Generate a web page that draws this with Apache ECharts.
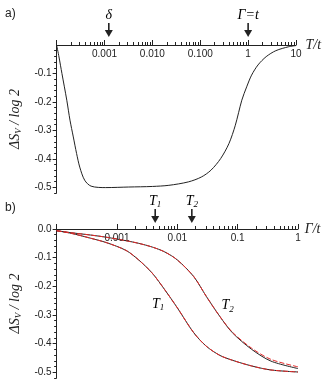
<!DOCTYPE html>
<html><head><meta charset="utf-8">
<script src="https://cdn.jsdelivr.net/npm/echarts@6/dist/echarts.min.js"></script>
<style>html,body{margin:0;padding:0;background:#fff}#c{width:330px;height:391px}</style>
</head><body><div id="c"></div>
<script>
// ---- data (panel a) ----
const topX = [0.0001, 0.000112, 0.000129, 0.000163, 0.00019, 0.000223, 0.000261, 0.000304, 0.000385, 0.000525, 0.00106, 0.0032, 0.01, 0.0221, 0.0564, 0.105, 0.167, 0.267, 0.398, 0.54, 0.738, 0.933, 1.18, 1.61, 2.38, 3.79, 7.06, 10];
const topY = [0, -0.042, -0.10, -0.194, -0.264, -0.323, -0.381, -0.429, -0.475, -0.496, -0.501, -0.499, -0.497, -0.493, -0.481, -0.464, -0.440, -0.399, -0.346, -0.282, -0.194, -0.147, -0.106, -0.070, -0.041, -0.020, -0.006, -0.002];
// ---- data (panel b) ----
const botX = [0.0001, 0.000174, 0.000363, 0.000679, 0.00142, 0.00229, 0.00384, 0.00619, 0.01, 0.0187, 0.0302, 0.0506, 0.0817, 0.1706, 0.356, 1];
const t1Y  = [-0.006, -0.015, -0.032, -0.048, -0.075, -0.108, -0.154, -0.212, -0.275, -0.362, -0.409, -0.441, -0.458, -0.478, -0.492, -0.499];
const t2Y  = [-0.006, -0.013, -0.021, -0.029, -0.041, -0.050, -0.063, -0.080, -0.108, -0.166, -0.235, -0.305, -0.362, -0.42, -0.461, -0.487];
const t1FitY = t1Y;
const t2FitY = [-0.006, -0.013, -0.021, -0.029, -0.041, -0.050, -0.063, -0.080, -0.108, -0.166, -0.235, -0.305, -0.360, -0.416, -0.455, -0.481];
// ---- ticks ----
const topMajor = [0.0001, 0.001, 0.01, 0.1, 1, 10];
const topMajorLabels = ['', '0.001', '0.010', '0.100', '1', '10'];
const topMinor = [0.0002,0.0003,0.0004,0.0005,0.0006,0.0007,0.0008,0.0009,0.002,0.003,0.004,0.005,0.006,0.007,0.008,0.009,0.02,0.03,0.04,0.05,0.06,0.07,0.08,0.09,0.2,0.3,0.4,0.5,0.6,0.7,0.8,0.9,2,3,4,5,6,7,8,9];
const botMajor = [0.0001, 0.001, 0.01, 0.1, 1];
const botMajorLabels = ['', '0.001', '0.01', '0.1', '1'];
const botMinor = [0.002,0.003,0.004,0.005,0.006,0.007,0.008,0.009,0.02,0.03,0.04,0.05,0.06,0.07,0.08,0.09,0.2,0.3,0.4,0.5,0.6,0.7,0.8,0.9];
const topYTicks = [-0.5, -0.4, -0.3, -0.2, -0.1];
const topYLabels = ['-0.5', '-0.4', '-0.3', '-0.2', '-0.1'];
const botYTicks = [-0.5, -0.4, -0.3, -0.2, -0.1, 0];
const botYLabels = ['-0.5', '-0.4', '-0.3', '-0.2', '-0.1', '0.0'];
const yMinorTicks = [-0.52,-0.48,-0.46,-0.44,-0.42,-0.38,-0.36,-0.34,-0.32,-0.28,-0.26,-0.24,-0.22,-0.18,-0.16,-0.14,-0.12,-0.08,-0.06,-0.04,-0.02];
// annotations
const topArrows = [{ text: '{i|δ}', x: 0.00123 }, { text: '{i|Γ=t}', x: 1 }];
const botArrows = [{ text: '{i|T}{s|1}', x: 0.0043 }, { text: '{i|T}{s|2}', x: 0.0174 }];
const curveLabels = [{ text: '{i|T}{s|1}', x: 0.0048, y: -0.262 }, { text: '{i|T}{s|2}', x: 0.068, y: -0.268 }];

const zip = (xs, ys) => xs.map((x, i) => [x, ys[i]]);
const SANS = 'Liberation Sans';
const SERIF = 'Liberation Serif';
const INK = '#222';
const richSerif = {
  i: { fontFamily: SERIF, fontStyle: 'italic', fontSize: 14, color: INK },
  s: { fontFamily: SERIF, fontStyle: 'italic', fontSize: 9, color: INK, padding: [8, 0, 0, 0] }
};
const lbl = (vals, labs) => v => { const k = vals.findIndex(a => Math.abs(a - v) / Math.abs(a || 1) < 1e-6); return k >= 0 ? labs[k] : ''; };

function xMain(grid, min, max, vals, labs, name) {
  return {
    type: 'log', gridIndex: grid, min: min, max: max, logBase: 10, position: 'top',
    name: name, nameLocation: 'end', nameGap: 6,
    nameTextStyle: { rich: richSerif, fontFamily: SERIF, fontStyle: 'italic', fontSize: 14, color: INK },
    axisLine: { show: true, lineStyle: { color: INK, width: 1 } },
    axisTick: { show: true, inside: false, length: 5, lineStyle: { color: INK } },
    axisLabel: { show: true, inside: true, margin: 4, formatter: lbl(vals, labs), fontFamily: SANS, fontSize: 10, color: INK },
    splitLine: { show: false }, minorTick: { show: false }
  };
}
// helper axis used only to draw the minor ticks of the log axis (in log10 space)
function xMinor(grid, min, max, vals) {
  return {
    type: 'value', gridIndex: grid, min: Math.log10(min), max: Math.log10(max), position: 'top',
    axisLine: { show: true, lineStyle: { color: INK, opacity: 0 } },
    axisTick: { show: true, inside: false, length: 3, customValues: vals.map(Math.log10), lineStyle: { color: INK, opacity: 1 } },
    axisLabel: { show: false }, splitLine: { show: false }
  };
}
function yMain(grid, vals, labs, name) {
  return {
    type: 'value', gridIndex: grid, min: -0.52, max: 0, position: 'left',
    name: name, nameLocation: 'middle', nameGap: 31, nameRotate: 90,
    nameTextStyle: { rich: richSerif, fontFamily: SERIF, fontStyle: 'italic', fontSize: 14, color: INK },
    axisLine: { show: true, onZero: false, lineStyle: { color: INK, width: 1 } },
    axisTick: { show: true, inside: false, length: 4, customValues: vals, lineStyle: { color: INK } },
    axisLabel: { show: true, margin: 5, customValues: vals, formatter: lbl(vals, labs), fontFamily: SANS, fontSize: 10, color: INK },
    splitLine: { show: false }
  };
}
function yMinor(grid) {
  return {
    type: 'value', gridIndex: grid, min: -0.52, max: 0, position: 'left',
    axisLine: { show: true, onZero: false, lineStyle: { color: INK, opacity: 0 } },
    axisTick: { show: true, inside: false, length: 2.5, customValues: yMinorTicks, lineStyle: { color: INK } },
    axisLabel: { show: false }, splitLine: { show: false }
  };
}
const yName = '{i|ΔS}{s|V}{i| / log 2}';

const chart = echarts.init(document.getElementById('c'), null, { renderer: 'canvas' });
chart.setOption({
  animation: false,
  backgroundColor: '#fff',
  grid: [
    { left: 49.5, top: 45, width: 246.5, height: 148 },
    { left: 48, top: 229, width: 250, height: 149 }
  ],
  xAxis: [
    xMain(0, 0.0001, 10, topMajor, topMajorLabels, '{i|T/t}'),
    xMinor(0, 0.0001, 10, topMinor),
    xMain(1, 0.0001, 1, botMajor, botMajorLabels, '{i|Γ/t}'),
    xMinor(1, 0.0001, 1, botMinor)
  ],
  yAxis: [
    yMain(0, topYTicks, topYLabels, yName),
    yMinor(0),
    yMain(1, botYTicks, botYLabels, yName),
    yMinor(1)
  ],
  series: [
    { type: 'line', xAxisIndex: 0, yAxisIndex: 0, data: zip(topX, topY), smooth: 0.3, showSymbol: false, lineStyle: { color: INK, width: 1 } },
    { type: 'line', xAxisIndex: 2, yAxisIndex: 2, data: zip(botX, t1Y), smooth: 0.3, showSymbol: false, lineStyle: { color: INK, width: 1 } },
    { type: 'line', xAxisIndex: 2, yAxisIndex: 2, data: zip(botX, t2Y), smooth: 0.3, showSymbol: false, lineStyle: { color: INK, width: 1 } },
    { type: 'line', xAxisIndex: 2, yAxisIndex: 2, data: zip(botX, t1FitY), smooth: 0.3, showSymbol: false, lineStyle: { color: '#e32a2a', width: 1, type: [5, 2] } },
    { type: 'line', xAxisIndex: 2, yAxisIndex: 2, data: zip(botX, t2FitY), smooth: 0.3, showSymbol: false, lineStyle: { color: '#e32a2a', width: 1, type: [5, 2] } }
  ]
});

function arrow(px, tipY, labelText) {
  return [
    { type: 'line', shape: { x1: px, y1: tipY - 14, x2: px, y2: tipY - 5 }, style: { stroke: INK, lineWidth: 1.6 } },
    { type: 'polygon', shape: { points: [[px - 4, tipY - 7], [px + 4, tipY - 7], [px, tipY]] }, style: { fill: INK } },
    { type: 'text', x: px, y: tipY - 22, style: { text: labelText, rich: richSerif, align: 'center', verticalAlign: 'middle' } }
  ];
}
const g = [];
topArrows.forEach(a => { const p = chart.convertToPixel({ xAxisIndex: 0, yAxisIndex: 0 }, [a.x, 0]); g.push(...arrow(p[0], p[1] - 8, a.text)); });
botArrows.forEach(a => { const p = chart.convertToPixel({ xAxisIndex: 2, yAxisIndex: 2 }, [a.x, 0]); g.push(...arrow(p[0], p[1] - 6, a.text)); });
curveLabels.forEach(c => { const p = chart.convertToPixel({ xAxisIndex: 2, yAxisIndex: 2 }, [c.x, c.y]); g.push({ type: 'text', x: p[0], y: p[1], style: { text: c.text, rich: richSerif, align: 'center', verticalAlign: 'middle' } }); });
g.push({ type: 'text', left: 5, top: 8, style: { text: 'a)', fontFamily: SANS, fontSize: 12, fill: INK } });
g.push({ type: 'text', left: 5, top: 202, style: { text: 'b)', fontFamily: SANS, fontSize: 12, fill: INK } });
chart.setOption({ graphic: g });
</script>
</body></html>
